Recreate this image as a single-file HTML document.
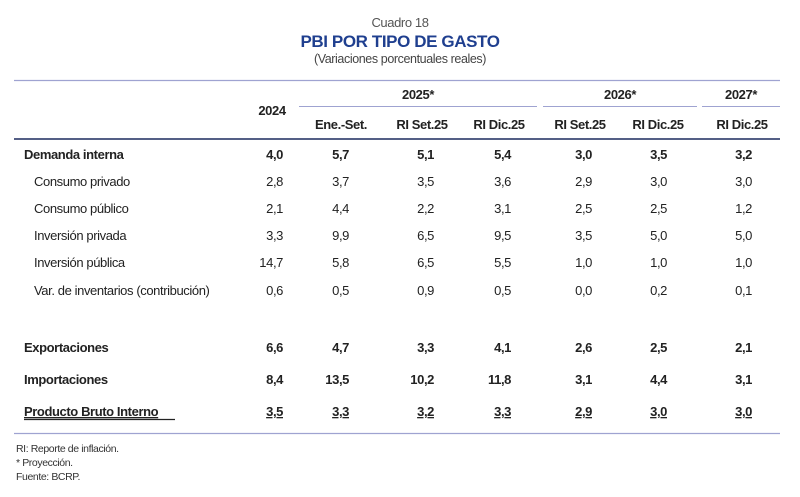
<!DOCTYPE html>
<html><head><meta charset="utf-8"><style>
body{margin:0;background:#fff}
svg{display:block}
text{font-family:"Liberation Sans",sans-serif;fill:#222;letter-spacing:-0.4px}
.b{font-weight:bold}
</style></head><body>
<svg width="800" height="497" viewBox="0 0 800 497" xmlns="http://www.w3.org/2000/svg">
<text x="400" y="27" text-anchor="middle" font-size="13" style="fill:#555">Cuadro 18</text>
<text x="400" y="47" text-anchor="middle" font-size="17" class="b" style="fill:#1f3f8f">PBI POR TIPO DE GASTO</text>
<text x="400" y="63" text-anchor="middle" font-size="12.5" style="fill:#444">(Variaciones porcentuales reales)</text>
<line x1="14" y1="80.5" x2="780" y2="80.5" stroke="#9fa3d1" stroke-width="1.2"/>
<line x1="299" y1="106.5" x2="537" y2="106.5" stroke="#9fa3d1"/>
<line x1="543" y1="106.5" x2="697" y2="106.5" stroke="#9fa3d1"/>
<line x1="702" y1="106.5" x2="780" y2="106.5" stroke="#9fa3d1"/>
<line x1="14" y1="139" x2="780" y2="139" stroke="#1c2a5e" stroke-width="1.5"/>
<g font-size="13">
<text class="b" x="418" y="99" text-anchor="middle">2025*</text>
<text class="b" x="620" y="99" text-anchor="middle">2026*</text>
<text class="b" x="741" y="99" text-anchor="middle">2027*</text>
<text class="b" x="272" y="115" text-anchor="middle">2024</text>
<text class="b" x="341" y="129" text-anchor="middle">Ene.-Set.</text>
<text class="b" x="422" y="129" text-anchor="middle">RI Set.25</text>
<text class="b" x="499" y="129" text-anchor="middle">RI Dic.25</text>
<text class="b" x="580" y="129" text-anchor="middle">RI Set.25</text>
<text class="b" x="658" y="129" text-anchor="middle">RI Dic.25</text>
<text class="b" x="742" y="129" text-anchor="middle">RI Dic.25</text>
</g>
<g font-size="13">
<text class="b" x="24" y="159">Demanda interna</text>
<text x="34" y="186">Consumo  privado</text>
<text x="34" y="213">Consumo público</text>
<text x="34" y="240">Inversión privada</text>
<text x="34" y="267">Inversión pública</text>
<text x="34" y="295">Var. de inventarios (contribución)</text>
<text class="b" x="24" y="352">Exportaciones</text>
<text class="b" x="24" y="384">Importaciones</text>
<text class="b" x="24" y="416" text-decoration="underline">Producto Bruto Interno</text>
<line x1="24" y1="419.5" x2="175" y2="419.5" stroke="#222" stroke-width="1.3"/>
</g>
<g font-size="13" text-anchor="end">
<text class="b" x="283" y="159">4,0</text><text class="b" x="349" y="159">5,7</text><text class="b" x="434" y="159">5,1</text><text class="b" x="511" y="159">5,4</text><text class="b" x="592" y="159">3,0</text><text class="b" x="667" y="159">3,5</text><text class="b" x="752" y="159">3,2</text>
<text x="283" y="186">2,8</text><text x="349" y="186">3,7</text><text x="434" y="186">3,5</text><text x="511" y="186">3,6</text><text x="592" y="186">2,9</text><text x="667" y="186">3,0</text><text x="752" y="186">3,0</text>
<text x="283" y="213">2,1</text><text x="349" y="213">4,4</text><text x="434" y="213">2,2</text><text x="511" y="213">3,1</text><text x="592" y="213">2,5</text><text x="667" y="213">2,5</text><text x="752" y="213">1,2</text>
<text x="283" y="240">3,3</text><text x="349" y="240">9,9</text><text x="434" y="240">6,5</text><text x="511" y="240">9,5</text><text x="592" y="240">3,5</text><text x="667" y="240">5,0</text><text x="752" y="240">5,0</text>
<text x="283" y="267">14,7</text><text x="349" y="267">5,8</text><text x="434" y="267">6,5</text><text x="511" y="267">5,5</text><text x="592" y="267">1,0</text><text x="667" y="267">1,0</text><text x="752" y="267">1,0</text>
<text x="283" y="295">0,6</text><text x="349" y="295">0,5</text><text x="434" y="295">0,9</text><text x="511" y="295">0,5</text><text x="592" y="295">0,0</text><text x="667" y="295">0,2</text><text x="752" y="295">0,1</text>
<text class="b" x="283" y="352">6,6</text><text class="b" x="349" y="352">4,7</text><text class="b" x="434" y="352">3,3</text><text class="b" x="511" y="352">4,1</text><text class="b" x="592" y="352">2,6</text><text class="b" x="667" y="352">2,5</text><text class="b" x="752" y="352">2,1</text>
<text class="b" x="283" y="384">8,4</text><text class="b" x="349" y="384">13,5</text><text class="b" x="434" y="384">10,2</text><text class="b" x="511" y="384">11,8</text><text class="b" x="592" y="384">3,1</text><text class="b" x="667" y="384">4,4</text><text class="b" x="752" y="384">3,1</text>
<text class="b" x="283" y="416" text-decoration="underline">3,5</text><text class="b" x="349" y="416" text-decoration="underline">3,3</text><text class="b" x="434" y="416" text-decoration="underline">3,2</text><text class="b" x="511" y="416" text-decoration="underline">3,3</text><text class="b" x="592" y="416" text-decoration="underline">2,9</text><text class="b" x="667" y="416" text-decoration="underline">3,0</text><text class="b" x="752" y="416" text-decoration="underline">3,0</text>
</g>
<line x1="14" y1="433.5" x2="780" y2="433.5" stroke="#9fa3d1" stroke-width="1.2"/>
<g font-size="10.5">
<text x="16" y="452" style="fill:#333">RI: Reporte de inflación.</text>
<text x="16" y="466" style="fill:#333">* Proyección.</text>
<text x="16" y="480" style="fill:#333">Fuente: BCRP.</text>
</g>
</svg>
</body></html>
